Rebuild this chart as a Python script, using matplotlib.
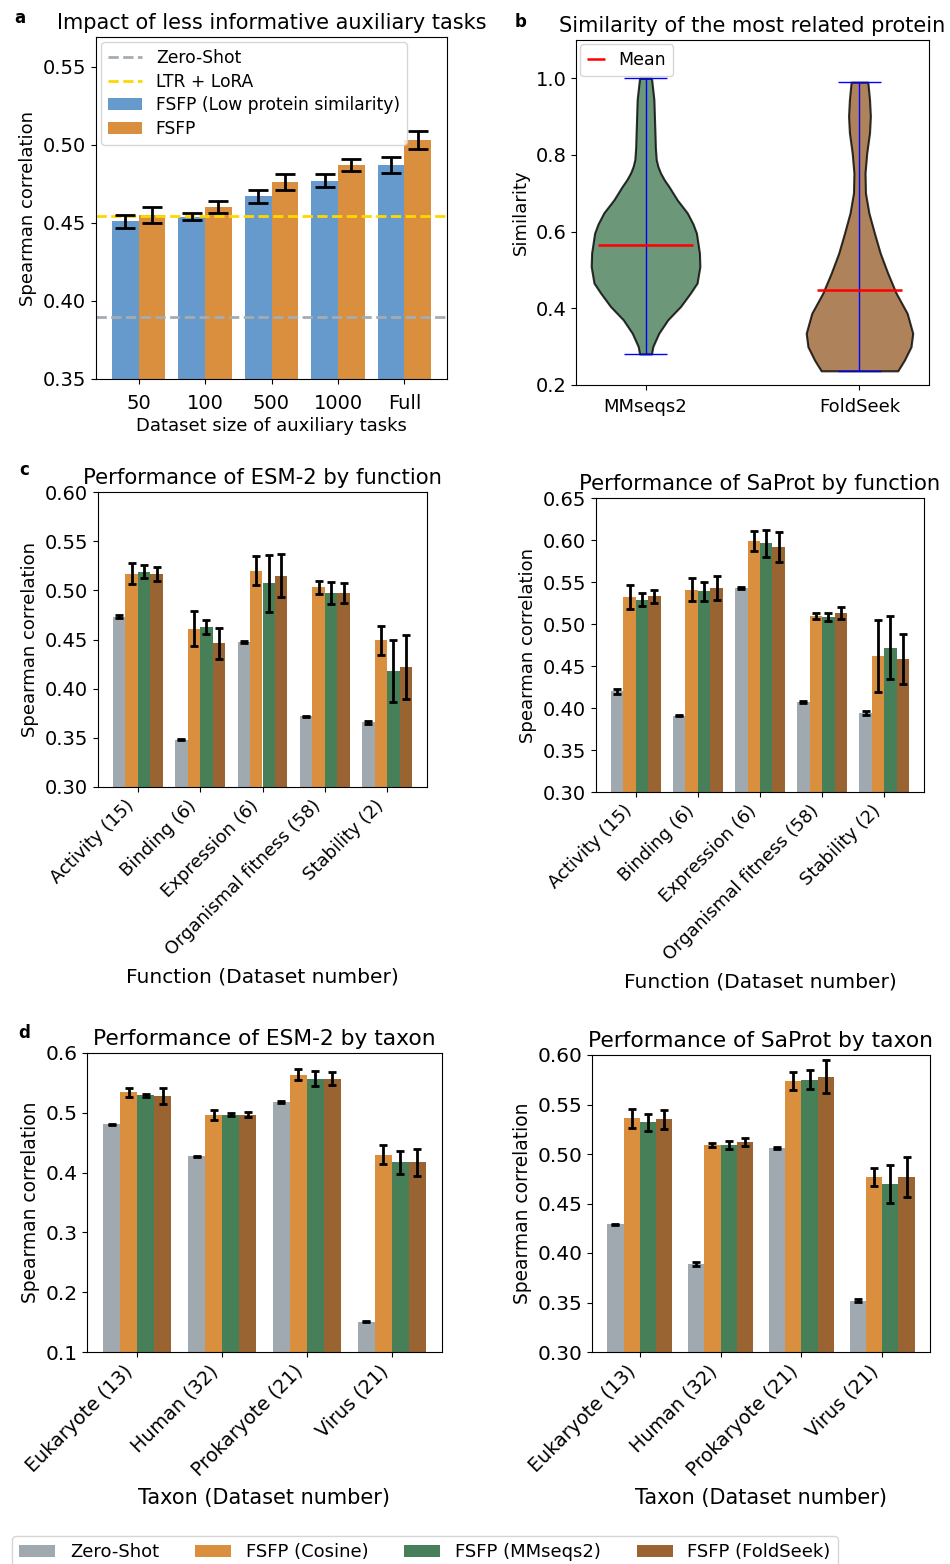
import numpy as np
import matplotlib
matplotlib.use('Agg')
import matplotlib.pyplot as plt
from matplotlib.colors import to_rgba

# colours
C_ZERO = '#A0A9B0'
C_COS = '#D98F3D'
C_MM = '#477F58'
C_FS = '#9A6432'
C_LOW = '#6699CC'

# panel a
sizes = ['50', '100', '500', '1000', 'Full']
low_sim = [0.451, 0.454, 0.467, 0.477, 0.487]
low_sim_err = [0.004, 0.0025, 0.004, 0.004, 0.005]
fsfp = [0.455, 0.460, 0.476, 0.487, 0.503]
fsfp_err = [0.005, 0.004, 0.005, 0.004, 0.006]
zero_shot_a = 0.390
ltr_lora = 0.4545

# panel b, violin outlines (similarity, half width)
mm_y = [1.000, 0.945, 0.858, 0.820, 0.788, 0.770, 0.753, 0.735, 0.718, 0.683, 0.649,
        0.620, 0.596, 0.544, 0.509, 0.466, 0.440, 0.405, 0.370, 0.335, 0.300, 0.281]
mm_hw = [0.028, 0.039, 0.044, 0.046, 0.050, 0.058, 0.070, 0.088, 0.109, 0.148, 0.195,
         0.222, 0.238, 0.252, 0.254, 0.241, 0.210, 0.164, 0.104, 0.062, 0.034, 0.028]
fs_y = [0.990, 0.945, 0.901, 0.858, 0.805, 0.753, 0.701, 0.649, 0.596, 0.544, 0.492,
        0.440, 0.387, 0.335, 0.300, 0.265, 0.237]
fs_hw = [0.039, 0.047, 0.051, 0.047, 0.034, 0.026, 0.028, 0.044, 0.070, 0.097, 0.132,
         0.171, 0.223, 0.249, 0.241, 0.210, 0.179]
sim_names = ['MMseqs2', 'FoldSeek']
sim_min = [0.281, 0.237]
sim_max = [1.000, 0.990]
sim_mean = [0.566, 0.448]

# panel c
functions = ['Activity (15)', 'Binding (6)', 'Expression (6)', 'Organismal fitness (58)', 'Stability (2)']
esm_func = {
    'Zero-Shot': [0.473, 0.348, 0.447, 0.372, 0.366],
    'FSFP (Cosine)': [0.517, 0.461, 0.520, 0.503, 0.449],
    'FSFP (MMseqs2)': [0.519, 0.463, 0.507, 0.497, 0.418],
    'FSFP (FoldSeek)': [0.517, 0.446, 0.515, 0.497, 0.422],
}
esm_func_err = {
    'Zero-Shot': [0.0015, 0.0006, 0.001, 0.0007, 0.0015],
    'FSFP (Cosine)': [0.011, 0.018, 0.015, 0.007, 0.015],
    'FSFP (MMseqs2)': [0.0065, 0.007, 0.029, 0.011, 0.032],
    'FSFP (FoldSeek)': [0.007, 0.016, 0.022, 0.010, 0.033],
}
sa_func = {
    'Zero-Shot': [0.420, 0.391, 0.543, 0.407, 0.394],
    'FSFP (Cosine)': [0.532, 0.541, 0.599, 0.510, 0.462],
    'FSFP (MMseqs2)': [0.529, 0.539, 0.596, 0.508, 0.472],
    'FSFP (FoldSeek)': [0.533, 0.543, 0.592, 0.513, 0.458],
}
sa_func_err = {
    'Zero-Shot': [0.003, 0.001, 0.001, 0.0008, 0.002],
    'FSFP (Cosine)': [0.014, 0.014, 0.012, 0.0035, 0.043],
    'FSFP (MMseqs2)': [0.008, 0.0115, 0.016, 0.005, 0.038],
    'FSFP (FoldSeek)': [0.008, 0.014, 0.018, 0.007, 0.030],
}

# panel d
taxa = ['Eukaryote (13)', 'Human (32)', 'Prokaryote (21)', 'Virus (21)']
esm_tax = {
    'Zero-Shot': [0.481, 0.427, 0.518, 0.151],
    'FSFP (Cosine)': [0.534, 0.497, 0.564, 0.430],
    'FSFP (MMseqs2)': [0.529, 0.497, 0.557, 0.417],
    'FSFP (FoldSeek)': [0.528, 0.497, 0.557, 0.417],
}
esm_tax_err = {
    'Zero-Shot': [0.001, 0.001, 0.001, 0.001],
    'FSFP (Cosine)': [0.007, 0.0085, 0.0095, 0.0155],
    'FSFP (MMseqs2)': [0.003, 0.003, 0.0125, 0.019],
    'FSFP (FoldSeek)': [0.013, 0.004, 0.011, 0.0225],
}
sa_tax = {
    'Zero-Shot': [0.429, 0.389, 0.506, 0.352],
    'FSFP (Cosine)': [0.536, 0.509, 0.574, 0.477],
    'FSFP (MMseqs2)': [0.532, 0.509, 0.575, 0.470],
    'FSFP (FoldSeek)': [0.535, 0.512, 0.578, 0.477],
}
sa_tax_err = {
    'Zero-Shot': [0.0006, 0.0024, 0.0006, 0.0015],
    'FSFP (Cosine)': [0.0094, 0.0017, 0.0093, 0.0089],
    'FSFP (MMseqs2)': [0.0088, 0.0044, 0.0094, 0.0192],
    'FSFP (FoldSeek)': [0.0096, 0.0042, 0.0165, 0.0204],
}
method_colors = {'Zero-Shot': C_ZERO, 'FSFP (Cosine)': C_COS,
                 'FSFP (MMseqs2)': C_MM, 'FSFP (FoldSeek)': C_FS}

W, H = 950, 1564
fig = plt.figure(figsize=(W / 100, H / 100), dpi=100)


def add_ax(l, t, r, b):
    return fig.add_axes([l / W, 1 - b / H, (r - l) / W, (b - t) / H])


def grouped(ax, cats, vals, errs, ylim, yticks, title, xlabel, ytick_fmt, fs):
    # fs = (title, xlabel, ylabel, xticks, yticks)
    x = np.arange(len(cats))
    w = 0.2
    for i, m in enumerate(vals):
        ax.bar(x + (i - 1.5) * w, vals[m], w, yerr=errs[m], color=method_colors[m],
               label=m, capsize=3, error_kw=dict(elinewidth=2, capthick=2, ecolor='black'))
    ax.set_ylim(*ylim)
    ax.set_yticks(yticks)
    ax.set_yticklabels([ytick_fmt.format(v) for v in yticks], fontsize=fs[4])
    ax.set_xticks(x)
    ax.set_xticklabels(cats, rotation=45, ha='right', fontsize=fs[3])
    ax.set_title(title, fontsize=fs[0])
    ax.set_xlabel(xlabel, fontsize=fs[1], labelpad=6)
    ax.set_ylabel('Spearman correlation', fontsize=fs[2])


# ---- a
ax = add_ax(96, 37, 447, 379)
xa = np.arange(len(sizes))
ax.axhline(zero_shot_a, color='#A5ACB2', ls='--', lw=2, label='Zero-Shot')
ax.axhline(ltr_lora, color='#FFD700', ls='--', lw=2, label='LTR + LoRA')
ax.bar(xa - 0.2, low_sim, 0.4, yerr=low_sim_err, color=C_LOW, label='FSFP (Low protein similarity)',
       capsize=7, error_kw=dict(elinewidth=2, capthick=2))
ax.bar(xa + 0.2, fsfp, 0.4, yerr=fsfp_err, color=C_COS, label='FSFP',
       capsize=7, error_kw=dict(elinewidth=2, capthick=2))
ax.set_ylim(0.35, 0.569)
ax.set_yticks([0.35, 0.40, 0.45, 0.50, 0.55])
ax.set_yticklabels(['0.35', '0.40', '0.45', '0.50', '0.55'], fontsize=14)
ax.set_xticks(xa)
ax.set_xticklabels(sizes, fontsize=14)
ax.tick_params(axis='x', pad=7)
ax.set_xlabel('Dataset size of auxiliary tasks', fontsize=13, labelpad=3)
ax.set_ylabel('Spearman correlation', fontsize=13)
ax.set_title('Impact of less informative auxiliary tasks', fontsize=15)
ax.legend(loc='upper left', fontsize=12.3, labelspacing=0.33, borderaxespad=0.3)
fig.text(20 / W, 1 - 18 / H, 'a', fontsize=12, fontweight='bold', ha='center', va='center')

# ---- b
ax = add_ax(576, 40, 929, 385)
outlines = [(mm_y, mm_hw, C_MM), (fs_y, fs_hw, C_FS)]
mean_half = [0.22, 0.20]
for i, (yy, hw, col) in enumerate(outlines):
    pos = i + 1
    yy = np.array(yy)
    hw = np.array(hw)
    ax.fill_betweenx(yy, pos - hw, pos + hw, facecolor=to_rgba(col, 0.8),
                     edgecolor=(0, 0, 0, 0.8), linewidth=1.5)
    ax.vlines(pos, sim_min[i], sim_max[i], color='blue', lw=1)
    ax.hlines([sim_min[i], sim_max[i]], pos - 0.1, pos + 0.1, color='blue', lw=1)
    ax.hlines(sim_mean[i], pos - mean_half[i], pos + mean_half[i], color='red', lw=1.8,
              label='Mean' if i == 0 else None)
ax.set_xlim(0.675, 2.325)
ax.set_ylim(0.2, 1.1)
ax.set_yticks([0.2, 0.4, 0.6, 0.8, 1.0])
ax.set_yticklabels(['0.2', '0.4', '0.6', '0.8', '1.0'], fontsize=14)
ax.set_xticks([1, 2])
ax.set_xticklabels(sim_names, fontsize=13)
ax.tick_params(axis='x', pad=6)
ax.set_ylabel('Similarity', fontsize=13)
ax.set_title('Similarity of the most related protein', fontsize=15)
ax.legend(loc='upper left', fontsize=12.5, handlelength=1.0, borderaxespad=0.25)
fig.text(521 / W, 1 - 22 / H, 'b', fontsize=12, fontweight='bold', ha='center', va='center')

# ---- c
fs_c = (15.2, 14.5, 13, 13, 14)
ax = add_ax(98, 492, 427, 787)
grouped(ax, functions, esm_func, esm_func_err, (0.30, 0.60), [0.30, 0.35, 0.40, 0.45, 0.50, 0.55, 0.60],
        'Performance of ESM-2 by function', 'Function (Dataset number)', '{:.2f}', fs_c)
fig.text(24 / W, 1 - 470 / H, 'c', fontsize=12, fontweight='bold', ha='center', va='center')
ax = add_ax(596, 498, 924, 792)
grouped(ax, functions, sa_func, sa_func_err, (0.30, 0.65), [0.30, 0.35, 0.40, 0.45, 0.50, 0.55, 0.60, 0.65],
        'Performance of SaProt by function', 'Function (Dataset number)', '{:.2f}', fs_c)

# ---- d
fs_d = (15.7, 15, 13.4, 13.8, 14.5)
ax = add_ax(87, 1053, 442, 1352)
grouped(ax, taxa, esm_tax, esm_tax_err, (0.1, 0.6), [0.1, 0.2, 0.3, 0.4, 0.5, 0.6],
        'Performance of ESM-2 by taxon', 'Taxon (Dataset number)', '{:.1f}', fs_d)
fig.text(24 / W, 1 - 1033 / H, 'd', fontsize=12, fontweight='bold', ha='center', va='center')
ax = add_ax(592, 1055, 930, 1352)
grouped(ax, taxa, sa_tax, sa_tax_err, (0.30, 0.60), [0.30, 0.35, 0.40, 0.45, 0.50, 0.55, 0.60],
        'Performance of SaProt by taxon', 'Taxon (Dataset number)', '{:.2f}', fs_d)

handles, labels = ax.get_legend_handles_labels()
fig.legend(handles, labels, loc='upper center', bbox_to_anchor=(425 / W, 1 - 1527 / H),
           ncol=4, fontsize=13, frameon=True)

fig.savefig('out.png', dpi=100)
